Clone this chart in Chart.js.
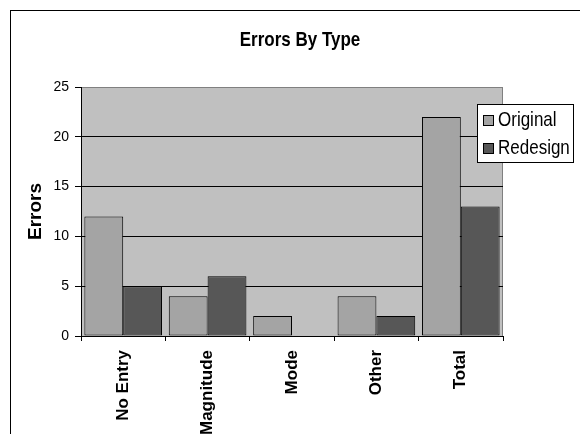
<!DOCTYPE html>
<html><head><meta charset="utf-8">
<script src="https://cdn.jsdelivr.net/npm/chart.js@4"></script>
<style>html,body{margin:0;padding:0;background:#fff}canvas{display:block}</style>
</head><body>
<div style="width:580px;height:434px"><canvas id="c" width="580" height="434"></canvas></div>
<script>
const categories = ['No Entry', 'Magnitude', 'Mode', 'Other', 'Total'];
const original = [12, 4, 2, 4, 22];
const redesign = [5, 6, 0, 2, 13];
const yTicks = [0, 5, 10, 15, 20, 25];
const chartTitle = 'Errors By Type';
const yTitle = 'Errors';

const FONT = '"Liberation Sans", Arial, sans-serif';

function stretchedText(ctx, text, x, y, sy) {
  ctx.save();
  ctx.translate(x, y);
  ctx.scale(1, sy);
  ctx.fillText(text, 0, 0);
  ctx.restore();
}

const decor = {
  id: 'decor',
  beforeDraw(chart) {
    const {ctx, chartArea: a} = chart;
    ctx.save();
    ctx.fillStyle = '#fff';
    ctx.fillRect(0, 0, chart.width, chart.height);
    ctx.strokeStyle = '#000';
    ctx.lineWidth = 1;
    ctx.strokeRect(10.5, 10.5, 700, 600);
    ctx.fillStyle = '#c0c0c0';
    ctx.fillRect(a.left, a.top, a.right - a.left, a.bottom - a.top);
    ctx.strokeStyle = '#808080';
    ctx.strokeRect(a.left + 0.5, a.top + 0.5, a.right - a.left - 1, a.bottom - a.top);
    ctx.restore();
  },
  afterDraw(chart) {
    const {ctx} = chart;
    ctx.save();
    ctx.fillStyle = '#000';
    ctx.font = 'bold 17px ' + FONT;
    ctx.textAlign = 'center';
    ctx.textBaseline = 'middle';
    stretchedText(ctx, chartTitle, 300, 41, 1.15);
    // legend
    const lx = 477, ly = 104, lw = 96, lh = 58;
    ctx.fillStyle = '#fff';
    ctx.fillRect(lx, ly, lw, lh);
    ctx.strokeStyle = '#000';
    ctx.lineWidth = 1;
    ctx.strokeRect(lx + 0.5, ly + 0.5, lw, lh);
    ctx.font = '17px ' + FONT;
    ctx.textAlign = 'left';
    chart.data.datasets.forEach((ds, i) => {
      const cy = ly + 16 + i * 28;
      ctx.fillStyle = ds.backgroundColor;
      ctx.fillRect(483, cy - 5, 11, 11);
      ctx.strokeStyle = '#000';
      ctx.strokeRect(483.5, cy - 4.5, 10, 10);
      ctx.fillStyle = '#000';
      stretchedText(ctx, ds.label, 498, cy + 1, 1.15);
    });
    ctx.restore();
  }
};

new Chart(document.getElementById('c'), {
  type: 'bar',
  data: {
    labels: categories,
    datasets: [
      {label: 'Original', data: original, backgroundColor: '#a4a4a4', borderColor: '#000', borderWidth: 1, borderSkipped: false},
      {label: 'Redesign', data: redesign, backgroundColor: '#575757', borderColor: '#000', borderWidth: 1, borderSkipped: false}
    ]
  },
  options: {
    responsive: false,
    animation: false,
    layout: {padding: {left: 0, top: 87, right: 77, bottom: 0}},
    datasets: {bar: {categoryPercentage: 0.92, barPercentage: 1}},
    plugins: {legend: {display: false}, title: {display: false}, tooltip: {enabled: false}},
    scales: {
      x: {
        offset: true,
        afterFit(s) { s.height = 98; },
        grid: {offset: true, drawOnChartArea: false, tickLength: 5, color: '#000', tickColor: '#000'},
        border: {color: '#000'},
        ticks: {minRotation: 90, maxRotation: 90, padding: 9, color: '#000', font: {family: FONT, size: 17, weight: 'bold'}}
      },
      y: {
        min: 0, max: 25,
        afterFit(s) { s.width = 81; },
        afterBuildTicks(s) { s.ticks = yTicks.map(v => ({value: v})); },
        grid: {tickLength: 6, color: c => (c.tick && c.tick.value === 25) ? 'rgba(0,0,0,0)' : '#000', tickColor: '#000'},
        border: {color: '#000'},
        ticks: {padding: 6, color: '#000', font: {family: FONT, size: 14}},
        title: {display: true, text: yTitle, color: '#000', font: {family: FONT, size: 19, weight: 'bold'}, padding: {top: 24}}
      }
    }
  },
  plugins: [decor]
});
</script>
</body></html>
